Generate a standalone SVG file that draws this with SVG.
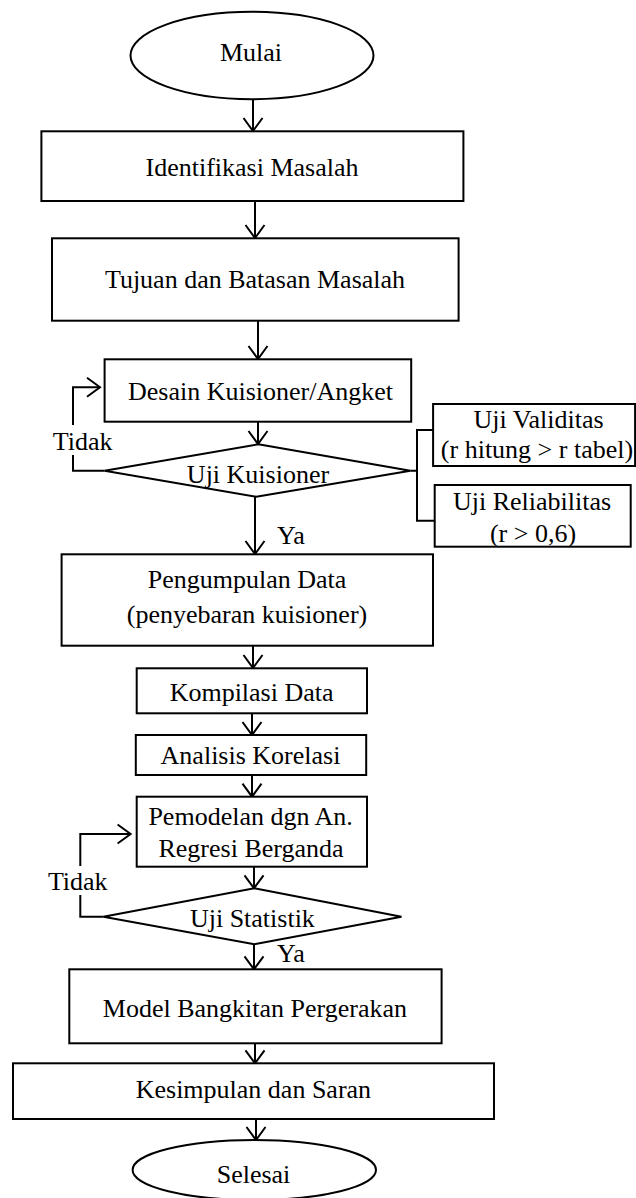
<svg xmlns="http://www.w3.org/2000/svg" width="636" height="1198" viewBox="0 0 636 1198">
<style>
.s{fill:#fff;stroke:#000;stroke-width:2}
.c{fill:none;stroke:#000;stroke-width:2}
.t{font-family:"Liberation Serif","Times New Roman",serif;font-size:26px;fill:#000;text-anchor:middle}
.l{font-family:"Liberation Serif","Times New Roman",serif;font-size:26px;fill:#000}
</style>
<defs>
<marker id="ah" viewBox="-15 -12 17 24" markerWidth="17" markerHeight="24" refX="0" refY="0" orient="auto" markerUnits="userSpaceOnUse">
<path d="M-13,-9.5 L0,0 L-13,9.5" fill="none" stroke="#000" stroke-width="2"/>
</marker>
</defs>
<g id="connectors" class="c">
<line x1="253" y1="99" x2="253" y2="131" marker-end="url(#ah)"/>
<line x1="255" y1="201" x2="255" y2="238" marker-end="url(#ah)"/>
<line x1="258" y1="321" x2="258" y2="359" marker-end="url(#ah)"/>
<line x1="258" y1="422" x2="258" y2="444" marker-end="url(#ah)"/>
<path d="M104.6,470.7 H73 V455 M73,425 V387.3 H100" marker-end="url(#ah)"/>
<path d="M410.4,470.7 H417 M433,430 H417 V520.7 H434.7"/>
<line x1="255" y1="497" x2="255" y2="554" marker-end="url(#ah)"/>
<line x1="253" y1="646" x2="253" y2="668" marker-end="url(#ah)"/>
<line x1="252" y1="713" x2="252" y2="735" marker-end="url(#ah)"/>
<line x1="252" y1="775" x2="252" y2="796.7" marker-end="url(#ah)"/>
<path d="M103.4,916.7 H80.3 V895 M80.3,866 V834 H130.6" marker-end="url(#ah)"/>
<line x1="254" y1="867" x2="254" y2="888.3" marker-end="url(#ah)"/>
<line x1="254" y1="944.3" x2="254" y2="969.3" marker-end="url(#ah)"/>
<line x1="255" y1="1043.3" x2="255" y2="1063.3" marker-end="url(#ah)"/>
<line x1="256" y1="1119" x2="256" y2="1140" marker-end="url(#ah)"/>
</g>
<g id="mulai"><ellipse class="s" cx="252" cy="55.5" rx="121.5" ry="43.7"/><text class="t" x="251" y="61">Mulai</text></g>
<g id="identifikasi"><rect class="s" x="41.4" y="131.3" width="422" height="69.7"/><text class="t" x="252" y="175.7">Identifikasi Masalah</text></g>
<g id="tujuan"><rect class="s" x="52" y="238.3" width="406.6" height="82.4"/><text class="t" x="255" y="288.3">Tujuan dan Batasan Masalah</text></g>
<g id="desain"><rect class="s" x="104.6" y="359.3" width="306.6" height="62.4"/><text class="t" x="260.5" y="400">Desain Kuisioner/Angket</text></g>
<g id="uji-kuisioner"><polygon class="s" points="258.3,444.3 410.4,470.7 256.3,496.7 104.6,470.7"/><text class="t" x="258" y="482.7">Uji Kuisioner</text></g>
<g id="label-tidak-1"><text class="l" x="52.7" y="450">Tidak</text></g>
<g id="uji-validitas"><rect class="s" x="433.1" y="404" width="202" height="62"/><text class="t" x="538.5" y="428.3">Uji Validitas</text><text class="t" x="537" y="458.3">(r hitung &gt; r tabel)</text></g>
<g id="uji-reliabilitas"><rect class="s" x="434.7" y="485" width="196" height="61.7"/><text class="t" x="532" y="510">Uji Reliabilitas</text><text class="t" x="533" y="541.7">(r &gt; 0,6)</text></g>
<g id="label-ya-1"><text class="l" x="277" y="544">Ya</text></g>
<g id="pengumpulan"><rect class="s" x="61.6" y="554.3" width="371.4" height="91.4"/><text class="t" x="247" y="588">Pengumpulan Data</text><text class="t" x="247" y="623.3">(penyebaran kuisioner)</text></g>
<g id="kompilasi"><rect class="s" x="136.7" y="668.3" width="230.3" height="45"/><text class="t" x="251.6" y="700.7">Kompilasi Data</text></g>
<g id="analisis"><rect class="s" x="135.8" y="735" width="230.4" height="40"/><text class="t" x="250.5" y="764.3">Analisis Korelasi</text></g>
<g id="pemodelan"><rect class="s" x="136.7" y="796.7" width="230.3" height="70"/><text class="t" x="250.6" y="825">Pemodelan dgn An.</text><text class="t" x="251" y="856.7">Regresi Berganda</text></g>
<g id="label-tidak-2"><text class="l" x="47.9" y="890">Tidak</text></g>
<g id="uji-statistik"><polygon class="s" points="254.3,888.3 401.5,916.7 254.3,944.3 103.4,916.7"/><text class="t" x="252.4" y="926.7">Uji Statistik</text></g>
<g id="label-ya-2"><text class="l" x="277" y="961.7">Ya</text></g>
<g id="model"><rect class="s" x="69.3" y="969.3" width="372.3" height="74"/><text class="t" x="254.9" y="1016.7">Model Bangkitan Pergerakan</text></g>
<g id="kesimpulan"><rect class="s" x="13" y="1063.3" width="481" height="55.7"/><text class="t" x="253.4" y="1098.3">Kesimpulan dan Saran</text></g>
<g id="selesai"><ellipse class="s" cx="254.3" cy="1170" rx="121.7" ry="30"/><text class="t" x="253.5" y="1183">Selesai</text></g>
</svg>
